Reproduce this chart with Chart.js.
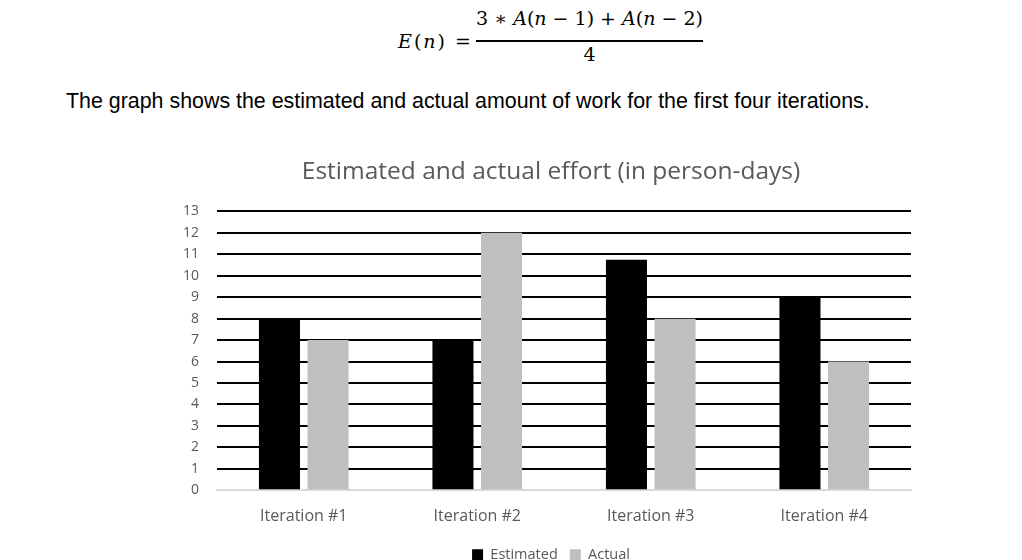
<!DOCTYPE html>
<html>
<head>
<meta charset="utf-8">
<script src="https://cdn.jsdelivr.net/npm/chart.js@4"></script>
<style>
  html, body { margin: 0; padding: 0; background: #fff; }
  body { width: 1022px; height: 560px; overflow: hidden; position: relative; }
  .math { position: absolute; font-family: "DejaVu Serif", "Liberation Serif", serif; font-size: 19px; color: #000; white-space: nowrap; }
  .math i { font-style: italic; }
  #frac-bar { position: absolute; left: 476px; top: 40px; width: 227px; height: 1.5px; background: #000; }
  #intro { position: absolute; left: 66px; top: 89px; font-family: "Liberation Sans", Arial, sans-serif; font-size: 21.4px; color: #000; white-space: nowrap; }
  #wrap { position: absolute; left: 150px; top: 146px; width: 780px; height: 426px; }
</style>
</head>
<body>
<div class="math" style="left:398px; top:30px; letter-spacing:2px;"><i>E</i>(<i>n</i>) =</div>
<div class="math" style="left:476px; top:7px; width:227px; text-align:center;">3 ∗ <i>A</i>(<i>n</i> − 1) + <i>A</i>(<i>n</i> − 2)</div>
<div id="frac-bar"></div>
<div class="math" style="left:476px; top:43px; width:227px; text-align:center;">4</div>
<div id="intro">The graph shows the estimated and actual amount of work for the first four iterations.</div>
<div id="wrap"><canvas id="barChart"></canvas></div>
<script>
var iteraciones = ['Iteration #1', 'Iteration #2', 'Iteration #3', 'Iteration #4'];
var estimado = [8, 7, 10.75, 9];
var real = [7, 12, 8, 6];
var marcasY = [0, 1, 2, 3, 4, 5, 6, 7, 8, 9, 10, 11, 12, 13];

var fuente = '"Open Sans", Lato, sans-serif';
var gris = '#595959';

var data = {
	labels: iteraciones,
	datasets: [
		{
			label: 'Estimated',
			data: estimado,
			backgroundColor: '#000000',
			borderWidth: 0,
			categoryPercentage: 0.56,
			barPercentage: 0.845
		},
		{
			label: 'Actual',
			data: real,
			backgroundColor: '#bfbfbf',
			borderWidth: 0,
			categoryPercentage: 0.56,
			barPercentage: 0.845
		}
	]
};

var options = {
	responsive: true,
	maintainAspectRatio: false,
	animation: false,
	// padding izquierdo para centrar titulo y leyenda como en el original
	layout: { padding: { left: 41, right: 19, top: 0, bottom: 0 } },
	plugins: {
		title: {
			display: true,
			text: 'Estimated and actual effort (in person-days)',
			color: gris,
			font: { family: fuente, size: 24.5, weight: 'normal' },
			padding: { top: 11, bottom: 25 }
		},
		legend: {
			position: 'bottom',
			labels: {
				color: gris,
				font: { family: fuente, size: 14.5 },
				boxWidth: 11,
				boxHeight: 11,
				padding: 12
			}
		},
		tooltip: { enabled: false }
	},
	scales: {
		x: {
			grid: { display: false },
			border: { display: true, color: '#d9d9d9', width: 2 },
			ticks: { color: gris, font: { family: fuente, size: 16 }, padding: 9 }
		},
		y: {
			min: 0,
			max: 13,
			afterBuildTicks: function(scale) {
				scale.ticks = marcasY.map(function(v) { return { value: v }; });
			},
			afterFit: function(scale) { scale.width = 26; },
			grid: {
				color: function(ctx) { return ctx.tick.value === 0 ? '#d9d9d9' : '#000000'; },
				lineWidth: 2,
				drawTicks: false
			},
			border: { display: false },
			ticks: { color: gris, font: { family: fuente, size: 14 }, padding: 18 }
		}
	}
};

// el eje Y es estrecho, asi que se amplia su zona de recorte para que se vean las etiquetas
var ampliarEjeY = {
	id: 'ampliarEjeY',
	afterLayout: function(chart) {
		chart.scales.y.left = 0;
	}
};

var ctx = document.getElementById('barChart').getContext('2d');
new Chart(ctx, { type: 'bar', data: data, options: options, plugins: [ampliarEjeY] });
</script>
</body>
</html>
